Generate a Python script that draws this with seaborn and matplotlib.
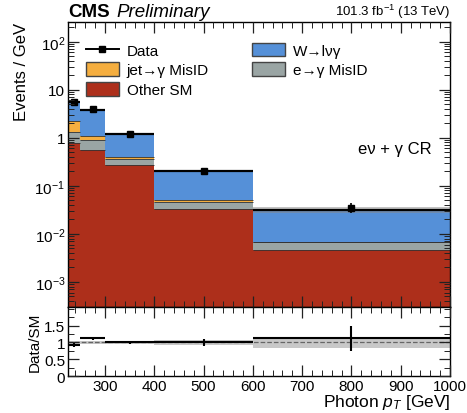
import numpy as np
import pandas as pd
import matplotlib
matplotlib.use("Agg")
import matplotlib.pyplot as plt
import seaborn as sns
from matplotlib.patches import Patch
from matplotlib.lines import Line2D
from matplotlib.ticker import FixedLocator, FixedFormatter, MultipleLocator, LogLocator, NullFormatter

# photon pT binning [GeV]
bin_edges = [225, 250, 300, 400, 600, 1000]
bin_lo = [225, 250, 300, 400, 600]
bin_hi = [250, 300, 400, 600, 1000]

# stacked backgrounds, events / GeV
other_sm = [0.78, 0.57, 0.265, 0.033, 0.0047]
e_misid = [0.57, 0.34, 0.105, 0.013, 0.0020]
jet_misid = [0.85, 0.19, 0.03, 0.004, 0.0002]
w_lnug = [3.4, 2.7, 0.81, 0.155, 0.0245]
total_unc = [0.04, 0.04, 0.04, 0.06, 0.14]   # relative

# data
data_y = [5.6, 3.9, 1.21, 0.205, 0.035]
data_err = [0.25, 0.17, 0.05, 0.015, 0.008]

# ratio pad
ratio_y = [0.92, 1.12, 1.0, 1.0, 1.12]
ratio_err = [0.05, 0.05, 0.04, 0.10, 0.37]

comp_names = ["W\u2192l\u03bd\u03b3", "jet\u2192\u03b3 MisID", "e\u2192\u03b3 MisID", "Other SM"]
comp_vals = [w_lnug, jet_misid, e_misid, other_sm]
comp_cols = ["#5590d8", "#f5ae3f", "#9aa5a4", "#ad2f1b"]

rows = []
for name, vals in zip(comp_names, comp_vals):
    for lo, hi, v in zip(bin_lo, bin_hi, vals):
        rows.append({"pt": 0.5 * (lo + hi), "w": v, "proc": name})
df = pd.DataFrame(rows)

plt.rcParams["font.family"] = ["Liberation Sans", "DejaVu Sans"]
plt.rcParams["mathtext.fontset"] = "custom"
plt.rcParams["mathtext.rm"] = "Liberation Sans"
plt.rcParams["mathtext.it"] = "Liberation Sans:italic"
plt.rcParams["axes.axisbelow"] = False

fig = plt.figure(figsize=(4.67, 4.14), dpi=100)
ax = fig.add_axes([0.1456, 0.256, 0.818, 0.689])
rax = fig.add_axes([0.1456, 0.089, 0.818, 0.167], sharex=ax)

ax.set_yscale("log")
sns.histplot(data=df, x="pt", weights="w", hue="proc", hue_order=comp_names,
             bins=bin_edges, multiple="stack", element="bars", stat="count",
             palette=comp_cols, alpha=1, linewidth=0,
             legend=False, ax=ax)

# thin dark boundaries between stacked layers
cum = np.cumsum(np.array(comp_vals[::-1]), axis=0)
for layer in cum[:-1]:
    ax.hlines(layer, bin_lo, bin_hi, color="#333333", linewidth=0.6)

total = cum[-1]
unc = np.array(total_unc)
ax.stairs(total * (1 + unc), bin_edges, baseline=total * (1 - unc),
          fill=True, color="#888888", alpha=0.5, linewidth=0)
ax.hlines(total, bin_lo, bin_hi, color="black", linewidth=1.6)

centers = 0.5 * (np.array(bin_lo) + np.array(bin_hi))
ax.errorbar(centers, data_y, yerr=data_err, fmt="s", color="black",
            markersize=4, elinewidth=1.2, capsize=0)

ax.set_xlim(225, 1000)
ax.set_ylim(3e-4, 260)
ax.yaxis.set_major_locator(FixedLocator([1e-3, 1e-2, 1e-1, 1, 10, 100]))
ax.yaxis.set_major_formatter(FixedFormatter(
    ["$10^{-3}$", "$10^{-2}$", "$10^{-1}$", "1", "10", "$10^{2}$"]))
ax.yaxis.set_minor_locator(LogLocator(base=10, subs=np.arange(2, 10), numticks=30))
ax.yaxis.set_minor_formatter(NullFormatter())
ax.set_ylabel("Events / GeV", fontsize=12, loc="top")
ax.set_xlabel("")
ax.tick_params(axis="x", labelbottom=False)

for a in (ax, rax):
    a.tick_params(which="both", direction="in", top=True, right=True,
                  labelsize=11, color="#222222", pad=2)
    a.tick_params(which="major", length=8, width=0.9)
    a.tick_params(which="minor", length=4, width=0.7)
    a.xaxis.set_minor_locator(MultipleLocator(20))
    for s in a.spines.values():
        s.set_linewidth(1.0)

ax.text(0.0, 1.006, "CMS", transform=ax.transAxes, fontsize=13.5,
        fontweight="bold", va="bottom", ha="left")
ax.text(0.128, 1.006, "Preliminary", transform=ax.transAxes, fontsize=13.5,
        fontstyle="italic", va="bottom", ha="left")
ax.text(1.0, 1.006, "101.3 fb$^{-1}$ (13 TeV)", transform=ax.transAxes,
        fontsize=9.5, va="bottom", ha="right")
ax.text(0.953, 0.555, "e\u03bd + \u03b3 CR", transform=ax.transAxes,
        fontsize=12, va="center", ha="right")

handles = [
    Line2D([], [], color="black", marker="s", markersize=4, linewidth=1.4),
    Patch(facecolor=comp_cols[0], edgecolor="#444444"),
    Patch(facecolor=comp_cols[1], edgecolor="#444444"),
    Patch(facecolor=comp_cols[2], edgecolor="#444444"),
    Patch(facecolor=comp_cols[3], edgecolor="#444444"),
]
labels = ["Data", comp_names[0], comp_names[1], comp_names[2], comp_names[3]]
# column 1 = Data, jet, Other ; column 2 = W, e
order = [0, 2, 4, 1, 3]
ax.legend([handles[i] for i in order], [labels[i] for i in order],
          ncol=2, frameon=False, fontsize=11, loc="upper left",
          bbox_to_anchor=(0.01, 0.975), handlelength=2.2, handleheight=1.0,
          handletextpad=0.5, columnspacing=2.8, labelspacing=0.3)

# ratio pad
rat_unc = np.array(total_unc) * 1.2
rax.stairs(1 + rat_unc, bin_edges, baseline=1 - rat_unc, fill=True,
           color="#c8c8c8", linewidth=0)
rax.axhline(1, color="#666666", linestyle="--", linewidth=0.9)
rax.errorbar(centers, ratio_y, yerr=ratio_err,
             xerr=[centers - np.array(bin_lo), np.array(bin_hi) - centers],
             fmt="none", ecolor="black", elinewidth=1.5, capsize=0)
rax.set_ylim(0, 2.05)
rax.yaxis.set_major_locator(FixedLocator([0, 0.5, 1, 1.5]))
rax.yaxis.set_major_formatter(FixedFormatter(["0", "0.5", "1", "1.5"]))
rax.yaxis.set_minor_locator(MultipleLocator(0.25))
rax.xaxis.set_major_locator(FixedLocator([300, 400, 500, 600, 700, 800, 900, 1000]))
rax.set_xlim(225, 1000)
rax.set_ylabel("Data/SM", fontsize=11, labelpad=2)
rax.set_xlabel("Photon $p_{\\mathit{T}}$ [GeV]", fontsize=12.5, loc="right",
               labelpad=-1)

fig.savefig("out.png", dpi=100)
